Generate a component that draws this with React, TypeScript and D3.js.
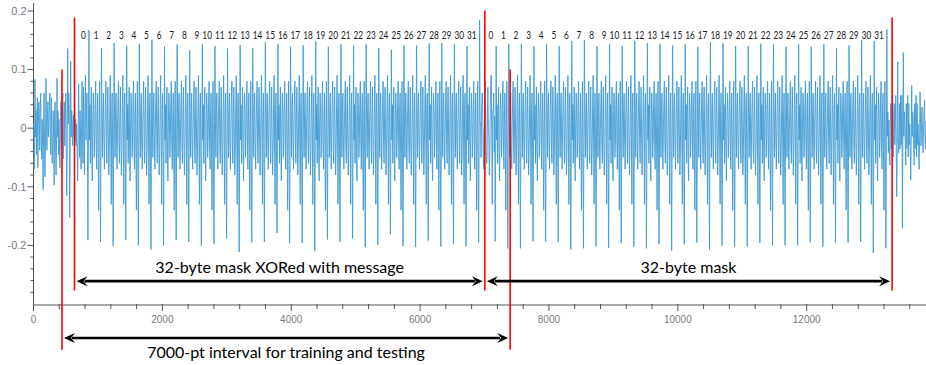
import React, { useMemo } from "react";
import * as d3 from "d3";

// ---- values ----
// tall up / down spikes of each byte, first run: mask XORed with message
const xorUpPeaks = [0.167, 0.136, 0.145, 0.141, 0.144, 0.151, 0.139, 0.143, 0.133, 0.143, 0.14, 0.136, 0.142, 0.137, 0.147, 0.144, 0.139, 0.141, 0.148, 0.139, 0.143, 0.141, 0.143, 0.137, 0.134, 0.141, 0.141, 0.145, 0.145, 0.143, 0.14, 0.184];
const xorDownPeaks = [-0.191, -0.194, -0.201, -0.191, -0.2, -0.207, -0.2, -0.191, -0.194, -0.201, -0.198, -0.188, -0.211, -0.195, -0.194, -0.179, -0.196, -0.196, -0.209, -0.19, -0.194, -0.188, -0.203, -0.199, -0.181, -0.201, -0.203, -0.192, -0.202, -0.198, -0.202, -0.195];
// second run: the mask alone
const maskUpPeaks = [0.14, 0.144, 0.144, 0.14, 0.143, 0.14, 0.149, 0.15, 0.14, 0.143, 0.14, 0.149, 0.145, 0.144, 0.141, 0.143, 0.139, 0.147, 0.145, 0.14, 0.14, 0.144, 0.144, 0.139, 0.143, 0.139, 0.143, 0.137, 0.141, 0.15, 0.149, 0.169];
const maskDownPeaks = [-0.193, -0.205, -0.205, -0.193, -0.193, -0.194, -0.207, -0.205, -0.202, -0.204, -0.196, -0.202, -0.205, -0.198, -0.209, -0.198, -0.195, -0.207, -0.201, -0.202, -0.202, -0.196, -0.2, -0.2, -0.2, -0.195, -0.202, -0.195, -0.195, -0.194, -0.213, -0.205];

// sample index of byte 0 in each run, and samples per byte
const runStarts = [860, 7181];
const bytePeriod = 195.6;

// spikes before and after the two runs
const preludeX = [23, 194, 365, 531, 577, 700];
const preludeUp = [0.083, 0.085, 0.085, 0.136, 0.114, 0.075];
const preludeDown = [-0.07, -0.083, -0.08, -0.115, -0.153, -0.09];
const postludeX = [13413, 13500, 13630, 13760];
const postludeUp = [0.113, 0.129, 0.073, 0.062];
const postludeDown = [-0.117, -0.171, -0.089, -0.07];

// shapes of the trace between two byte spikes (two kinds seen)
const byteShapeA = [0.01, -0.05, 0.03, 0.06, -0.02, -0.07, 0.0, 0.05, 0.08, -0.03, -0.06, 0.02, 0.07, -0.01, -0.08, -0.04, 0.04, 0.09, -0.02, -0.13, 0.03, 0.06, -0.04, 0.02];
const byteShapeB = [-0.02, 0.04, -0.06, 0.02, 0.07, -0.04, -0.09, 0.01, 0.06, 0.03, -0.05, -0.02, 0.05, 0.08, -0.03, -0.07, 0.02, 0.06, -0.04, -0.14, 0.01, 0.08, -0.05, 0.03];

const traceEnd = 13852;

// annotations
const markers = [
  { x: 442, top: 0.1, bottom: -0.378 },
  { x: 636, top: 0.189, bottom: -0.277 },
  { x: 7005, top: 0.201, bottom: -0.277 },
  { x: 7398, top: 0.1, bottom: -0.378 },
  { x: 13326, top: 0.189, bottom: -0.277 },
];
const spans = [
  { from: 1, to: 2, y: -0.261, label: "32-byte mask XORed with message", labelY: -0.2465 },
  { from: 2, to: 4, y: -0.261, label: "32-byte mask", labelY: -0.2465 },
  { from: 0, to: 3, y: -0.358, label: "7000-pt interval for training and testing", labelY: -0.392 },
];

const xMajor = [0, 2000, 4000, 6000, 8000, 10000, 12000];
const yMajor = [0.2, 0.1, 0, -0.1, -0.2];

const TRACE = "#3f9bd5";

export default function App() {
  return <TraceChart width={926} height={365} />;
}

const TraceChart = ({ width, height }) => {
  const xScale = useMemo(
    () => d3.scaleLinear().domain([0, traceEnd]).range([33.5, width]),
    [width]
  );
  const yScale = useMemo(
    () => d3.scaleLinear().domain([-0.3017, 0.2136]).range([305, 3]),
    []
  );

  const bytes = useMemo(() => {
    const list = [];
    [xorUpPeaks, maskUpPeaks].forEach((ups, run) => {
      const downs = run === 0 ? xorDownPeaks : maskDownPeaks;
      ups.forEach((up, i) => {
        list.push({
          x: runStarts[run] + i * bytePeriod,
          up,
          down: downs[i],
          amp: 1,
          shape: i % 3 === 1 ? byteShapeB : byteShapeA,
          label: i,
        });
      });
    });
    return list;
  }, []);

  const points = useMemo(() => {
    const events = [
      ...preludeX.map((x, i) => ({ x, up: preludeUp[i], down: preludeDown[i], amp: 0.75, shape: i % 2 ? byteShapeB : byteShapeA })),
      ...bytes,
      ...postludeX.map((x, i) => ({ x, up: postludeUp[i], down: postludeDown[i], amp: 0.7, shape: byteShapeB })),
    ];
    const pts = [[0, 0]];
    let prev = 0;
    events.forEach((ev) => {
      const len = ev.x - prev;
      const n = Math.max(4, Math.round(len / 7.5));
      const step = len / n;
      const inner = n - 3;
      for (let k = 0; k < inner; k++) {
        const v = ev.shape[Math.floor((k * ev.shape.length) / inner)] * ev.amp;
        pts.push([prev + (k + 1) * step, v]);
      }
      pts.push([ev.x - 2 * step, ev.down]);
      pts.push([ev.x - step, -0.02]);
      pts.push([ev.x, ev.up]);
      prev = ev.x;
    });
    // tail after the last spike
    const len = traceEnd - prev;
    const n = Math.round(len / 7.5);
    for (let k = 0; k < n; k++) {
      pts.push([prev + ((k + 1) * len) / n, byteShapeA[k % byteShapeA.length] * 0.6]);
    }
    return pts;
  }, [bytes]);

  const path = useMemo(
    () =>
      d3
        .line()
        .x((d) => xScale(d[0]))
        .y((d) => yScale(d[1]))(points),
    [points, xScale, yScale]
  );

  const xMinor = d3.range(0, 13700, 400).filter((v) => v % 2000 !== 0);
  const yMinor = d3
    .range(-28, 22, 2)
    .map((v) => v / 100)
    .filter((v) => Math.round(v * 100) % 10 !== 0);

  const axisColor = "#555";
  const tickText = "#7a7a7a";
  const x0 = xScale(0);
  const yBase = 305;

  const arrowHead = (tx, ty, dir) => {
    const b = tx - dir * 11;
    const n = tx - dir * 7;
    return `M${tx},${ty}L${b},${ty - 5}L${n},${ty}L${b},${ty + 5}Z`;
  };

  return (
    <svg
      width={width}
      height={height}
      style={{ position: "absolute", left: 0, top: 0, background: "#fff" }}
    >
      {/* axes */}
      <line x1={x0} x2={x0} y1={3} y2={yBase} stroke={axisColor} strokeWidth={1} />
      <line x1={x0} x2={width} y1={yBase} y2={yBase} stroke={axisColor} strokeWidth={1} />
      {yMinor.map((v) => (
        <line key={"ym" + v} x1={x0 - 3} x2={x0} y1={yScale(v)} y2={yScale(v)} stroke={axisColor} />
      ))}
      {yMajor.map((v) => (
        <g key={"yM" + v}>
          <line x1={x0 - 6} x2={x0} y1={yScale(v)} y2={yScale(v)} stroke={axisColor} />
          <text
            x={x0 - 7}
            y={yScale(v)}
            dy="0.35em"
            textAnchor="end"
            fontSize={11}
            fontFamily="Liberation Sans, Arial, sans-serif"
            fill={tickText}
          >
            {v === 0 ? "0" : String(v)}
          </text>
        </g>
      ))}
      {xMinor.map((v) => (
        <line key={"xm" + v} x1={xScale(v)} x2={xScale(v)} y1={yBase - 1} y2={yBase + 4} stroke={axisColor} />
      ))}
      {xMajor.map((v) => (
        <g key={"xM" + v}>
          <line x1={xScale(v)} x2={xScale(v)} y1={yBase - 1} y2={yBase + 6} stroke={axisColor} />
          <text
            x={xScale(v)}
            y={yBase + 18}
            textAnchor="middle"
            fontSize={10}
            fontFamily="Liberation Sans, Arial, sans-serif"
            fill={tickText}
          >
            {v}
          </text>
        </g>
      ))}

      {/* trace */}
      <path d={path} fill="none" stroke={TRACE} strokeWidth={0.9} strokeLinejoin="round" />

      {/* byte numbers */}
      {bytes.map((b, i) => {
        const s = String(b.label);
        return (
          <text
            key={"b" + i}
            x={xScale(b.x) - 3}
            y={39}
            textAnchor="end"
            fontSize={11}
            fontFamily="Lato, sans-serif"
            fill="#1a1a1a"
            textLength={s.length * 4.8}
            lengthAdjust="spacingAndGlyphs"
          >
            {s}
          </text>
        );
      })}

      {/* red markers */}
      {markers.map((m, i) => (
        <line
          key={"m" + i}
          x1={xScale(m.x)}
          x2={xScale(m.x)}
          y1={yScale(m.top)}
          y2={yScale(m.bottom)}
          stroke="#ff0000"
          strokeWidth={1.6}
        />
      ))}

      {/* spans */}
      {spans.map((s, i) => {
        const a = xScale(markers[s.from].x) + 2;
        const b = xScale(markers[s.to].x) - 2;
        const y = yScale(s.y);
        return (
          <g key={"s" + i}>
            <line x1={a + 8} x2={b - 8} y1={y} y2={y} stroke="#000" strokeWidth={2.6} />
            <path d={arrowHead(a, y, -1)} fill="#000" />
            <path d={arrowHead(b, y, 1)} fill="#000" />
            <text
              x={(a + b) / 2}
              y={yScale(s.labelY)}
              textAnchor="middle"
              fontSize={16}
              fontFamily="Lato, sans-serif"
              fill="#000"
            >
              {s.label}
            </text>
          </g>
        );
      })}
    </svg>
  );
};
